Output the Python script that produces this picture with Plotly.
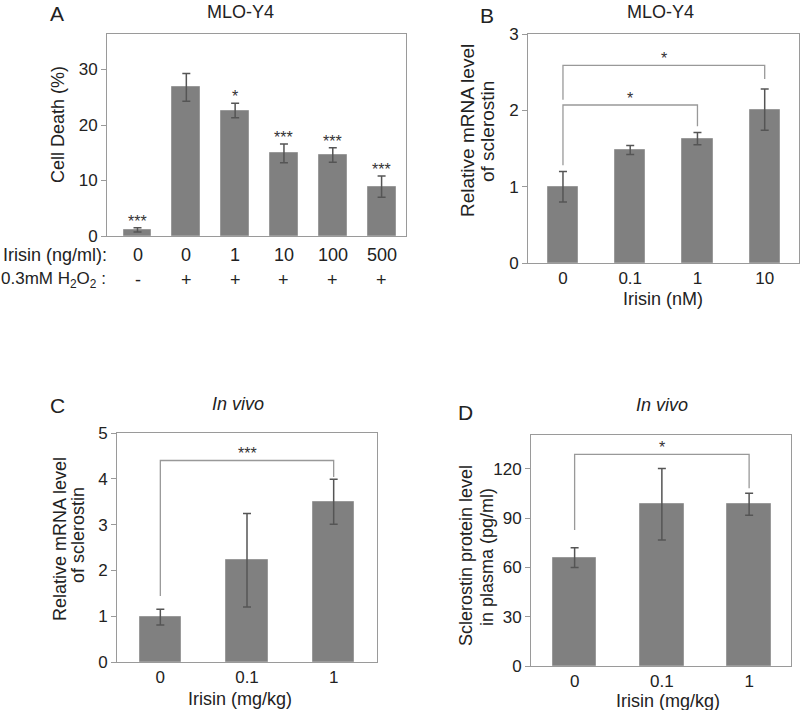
import plotly.graph_objects as go

# ---------------- data ----------------
A_irisin = ["0", "0", "1", "10", "100", "500"]
A_h2o2 = ["-", "+", "+", "+", "+", "+"]
A_mean = [1.1, 26.8, 22.6, 14.9, 14.6, 8.9]
A_err = [0.4, 2.5, 1.3, 1.7, 1.3, 1.9]
A_sig = ["***", "", "*", "***", "***", "***"]

B_cats = ["0", "0.1", "1", "10"]
B_mean = [1.0, 1.48, 1.63, 2.01]
B_err = [0.2, 0.06, 0.08, 0.27]
# (from, to, bar height, left leg end, right leg end, label)
B_brackets = [(0, 3, 2.59, 2.14, 2.41, "*"), (0, 2, 2.07, 1.28, 1.79, "*")]

C_cats = ["0", "0.1", "1"]
C_mean = [0.98, 2.22, 3.50]
C_err = [0.17, 1.02, 0.49]
C_brackets = [(0, 2, 4.40, 1.44, 4.04, "***")]

D_cats = ["0", "0.1", "1"]
D_mean = [66, 98.5, 98.5]
D_err = [6, 21.8, 6.7]
D_brackets = [(0, 2, 128.9, 82.8, 108.2, "*")]

# ---------------- style ----------------
W, H = 800, 710
FONT = "Liberation Sans, Arial, sans-serif"
BAR = "#808080"
BAR_LINE = "#9a9a9a"
ERR = "#555555"
AX = "#9a9a9a"
BR = "#999999"
TXT = "#222222"


def px_x(p):
    return p / W


def px_y(p):
    return 1 - p / H


fig = go.Figure()


def add_bars(xs, mean, err, width, xa, ya):
    fig.add_trace(go.Bar(
        x=xs, y=mean, width=width,
        marker=dict(color=BAR, line=dict(color=BAR_LINE, width=1)),
        error_y=dict(type="data", array=err, color=ERR, thickness=1.5, width=4),
        xaxis=xa, yaxis=ya, showlegend=False, hoverinfo="skip"))


add_bars(list(range(6)), A_mean, A_err, 0.57, "x", "y")
add_bars(list(range(4)), B_mean, B_err, 0.45, "x2", "y2")
add_bars(list(range(3)), C_mean, C_err, 0.48, "x3", "y3")
add_bars(list(range(3)), D_mean, D_err, 0.50, "x4", "y4")

shapes = []
annotations = []


def brackets(lst, xr, yr):
    for (a, b, yb, ya_, yb_, lab) in lst:
        shapes.append(dict(type="path", xref=xr, yref=yr,
                           path=f"M {a},{ya_} L {a},{yb} L {b},{yb} L {b},{yb_}",
                           line=dict(color=BR, width=1.3)))
        annotations.append(dict(x=(a + b) / 2, y=yb, xref=xr, yref=yr, text=lab,
                                showarrow=False, yanchor="bottom", yshift=-4,
                                font=dict(family=FONT, size=16, color="#333")))


brackets(B_brackets, "x2", "y2")
brackets(C_brackets, "x3", "y3")
brackets(D_brackets, "x4", "y4")

# significance stars over A bars
for i, s in enumerate(A_sig):
    if s:
        annotations.append(dict(x=i, y=A_mean[i] + A_err[i], xref="x", yref="y", text=s,
                                showarrow=False, yanchor="bottom", yshift=-4,
                                font=dict(family=FONT, size=16, color="#333")))

# A category labels (two rows)
for i, (t1, t2) in enumerate(zip(A_irisin, A_h2o2)):
    annotations.append(dict(x=i, y=px_y(255), xref="x", yref="paper", text=t1,
                            showarrow=False, font=dict(family=FONT, size=18, color=TXT)))
    annotations.append(dict(x=i, y=px_y(280), xref="x", yref="paper", text=t2,
                            showarrow=False, font=dict(family=FONT, size=18, color=TXT)))
annotations.append(dict(x=px_x(109), y=px_y(255), xref="paper", yref="paper",
                        text="Irisin (ng/ml):", xanchor="right", showarrow=False,
                        font=dict(family=FONT, size=18, color=TXT)))
annotations.append(dict(x=px_x(108), y=px_y(280), xref="paper", yref="paper",
                        text="0.3mM H<sub>2</sub>O<sub>2</sub> :", xanchor="right", showarrow=False,
                        font=dict(family=FONT, size=17, color=TXT)))


def txt(x, y, text, size=18, angle=0, yanchor="middle", **kw):
    annotations.append(dict(x=px_x(x), y=px_y(y), xref="paper", yref="paper", text=text,
                            showarrow=False, textangle=angle, xanchor="center", yanchor=yanchor,
                            font=dict(family=FONT, size=size, color=TXT), **kw))


# panel letters and titles
txt(57, 0, "A", size=21, yanchor="top")
txt(487, 2, "B", size=21, yanchor="top")
txt(58, 405, "C", size=21)
txt(465, 412, "D", size=21)
txt(240, 0, "MLO-Y4", size=18, yanchor="top")
txt(660, 0, "MLO-Y4", size=18, yanchor="top")
txt(238, 404, "<i>In vivo</i>", size=18)
txt(662, 405, "<i>In vivo</i>", size=18)

# y titles (each line placed separately for tight line spacing)
txt(58, 124, "Cell Death (%)", size=18, angle=-90)
txt(468, 131, "Relative mRNA level", size=19, angle=-90)
txt(488, 132, "of sclerostin", size=19, angle=-90)
txt(60, 539, "Relative mRNA level", size=18, angle=-90)
txt(78, 535, "of sclerostin", size=18, angle=-90)
txt(466, 556, "Sclerostin protein level", size=18, angle=-90)
txt(487, 557, "in plasma (pg/ml)", size=18, angle=-90)

# x titles
txt(663, 299, "Irisin (nM)", size=18)
txt(240, 699, "Irisin (mg/kg)", size=18)
txt(668, 701, "Irisin (mg/kg)", size=18)


def xaxis(dom, rng, anchor, cats=None):
    d = dict(domain=dom, range=rng, anchor=anchor, showgrid=False, zeroline=False,
             automargin=False, showline=True, linecolor=AX, linewidth=1, mirror=True,
             ticks="", tickfont=dict(family=FONT, size=17, color=TXT))
    if cats is None:
        d["showticklabels"] = False
    else:
        d["tickmode"] = "array"
        d["tickvals"] = list(range(len(cats)))
        d["ticktext"] = cats
    return d


def yaxis(dom, rng, anchor, dtick):
    return dict(domain=dom, range=rng, anchor=anchor, showgrid=False, zeroline=False,
                automargin=False, showline=True, linecolor=AX, linewidth=1, mirror=True,
                ticks="outside", ticklen=5, tickcolor=AX, dtick=dtick, tick0=0,
                tickfont=dict(family=FONT, size=17, color=TXT))


fig.update_layout(
    template="none",
    width=W, height=H, margin=dict(l=0, r=0, t=0, b=0, pad=0, autoexpand=False),
    paper_bgcolor="white", plot_bgcolor="white", bargap=0,
    xaxis=xaxis([px_x(107), px_x(406)], [-0.625, 5.5], "y"),
    yaxis=yaxis([px_y(236), px_y(34)], [0, 36.4], "x", 10),
    xaxis2=xaxis([px_x(528), px_x(799)], [-0.52, 3.51], "y2", B_cats),
    yaxis2=yaxis([px_y(263), px_y(34)], [0, 3], "x2", 1),
    xaxis3=xaxis([px_x(117), px_x(377)], [-0.5, 2.5], "y3", C_cats),
    yaxis3=yaxis([px_y(662), px_y(433)], [0, 5], "x3", 1),
    xaxis4=xaxis([px_x(531), px_x(791)], [-0.5, 2.48], "y4", D_cats),
    yaxis4=yaxis([px_y(666), px_y(435)], [0, 140.7], "x4", 30),
    shapes=shapes, annotations=annotations,
)

fig.write_html("out.html", config={"displayModeBar": False},
               post_script="document.body.style.margin='0';")
